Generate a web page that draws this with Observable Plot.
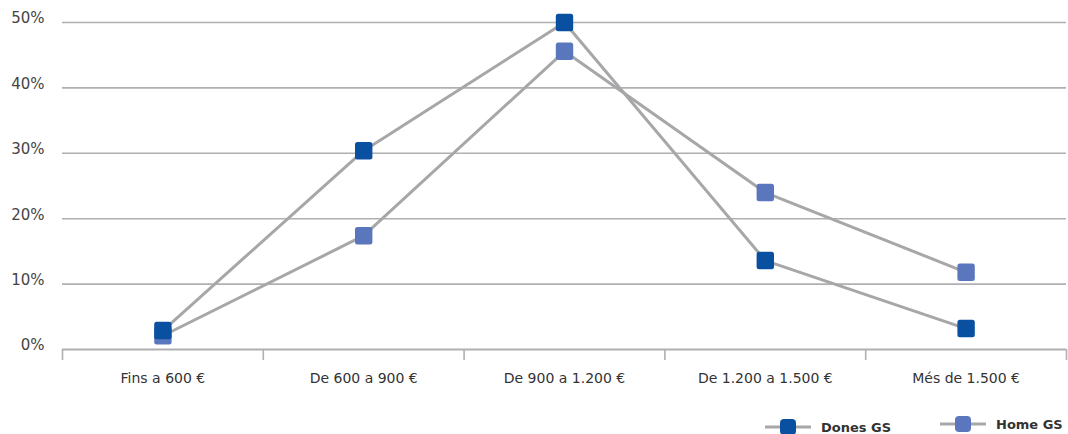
<!DOCTYPE html>
<html>
<head>
<meta charset="utf-8">
<script src="https://cdn.jsdelivr.net/npm/d3@7"></script>
<script src="https://cdn.jsdelivr.net/npm/@observablehq/plot@0.6"></script>
<style>
  html, body { margin: 0; padding: 0; background: #fff; }
  #wrap { position: relative; width: 1068px; height: 434px; font-family: "DejaVu Sans", sans-serif; }
  #legend { position: absolute; left: 0; top: 400px; width: 1068px; height: 34px; }
  .item { position: absolute; display: flex; align-items: center; font-weight: bold; font-size: 13px; color: #333; }
  .item svg { margin-right: 10px; }
</style>
</head>
<body>
<div id="wrap"><div id="chart"></div><div id="legend"></div></div>
<script>
const categories = ["Fins a 600 €", "De 600 a 900 €", "De 900 a 1.200 €", "De 1.200 a 1.500 €", "Més de 1.500 €"];
const dones = [2.9, 30.4, 50.0, 13.6, 3.2];
const home = [2.1, 17.4, 45.6, 24.0, 11.8];
const yTicks = [0, 10, 20, 30, 40, 50];
const seriesNames = ["Dones GS", "Home GS"];
const seriesColors = ["#0a50a1", "#5a77bd"];

const lineGray = "#a7a7a9";
const gridGray = "#b0b0b2";

const rows = [];
categories.forEach((c, i) => {
  rows.push({series: seriesNames[0], i, v: dones[i]});
  rows.push({series: seriesNames[1], i, v: home[i]});
});
const idx = d3.range(categories.length);
const boundaries = d3.range(categories.length + 1).map(i => i - 0.5);

const chart = Plot.plot({
  width: 1068,
  height: 400,
  marginLeft: 62,
  marginRight: 2,
  marginTop: 22,
  marginBottom: 51,
  style: {fontFamily: "DejaVu Sans, sans-serif", background: "#fff"},
  x: {type: "linear", domain: [-0.5, categories.length - 0.5], label: null},
  y: {domain: [0, 50], label: null},
  color: {domain: seriesNames, range: seriesColors},
  marks: [
    Plot.ruleY(yTicks.filter(d => d > 0), {stroke: gridGray, strokeWidth: 1.6}),
    Plot.ruleY([0], {stroke: gridGray, strokeWidth: 2}),
    Plot.axisX({ticks: boundaries, tickFormat: () => "", tickSize: 11, stroke: gridGray, strokeWidth: 1.6, label: null}),
    Plot.axisX({ticks: idx, tickFormat: i => categories[i], tickSize: 0, tickPadding: 24, fontSize: 14, fill: "#333", label: null}),
    Plot.axisY({ticks: yTicks, tickFormat: d => d + "%", tickSize: 0, tickPadding: 18, dy: -4, fontSize: 15, fill: "#444", label: null}),
    Plot.line(rows.filter(d => d.series === seriesNames[1]), {x: "i", y: "v", stroke: lineGray, strokeWidth: 3}),
    Plot.line(rows.filter(d => d.series === seriesNames[0]), {x: "i", y: "v", stroke: lineGray, strokeWidth: 3}),
    Plot.dot(rows.filter(d => d.series === seriesNames[1]), {x: "i", y: "v", symbol: "square", r: 7, fill: "series", stroke: "series", strokeWidth: 5, strokeLinejoin: "round"}),
    Plot.dot(rows.filter(d => d.series === seriesNames[0]), {x: "i", y: "v", symbol: "square", r: 7, fill: "series", stroke: "series", strokeWidth: 5, strokeLinejoin: "round"})
  ]
});
document.getElementById("chart").appendChild(chart);

// Legend
const legend = document.getElementById("legend");
const legendPos = [{left: 765, top: 27}, {left: 940, top: 24}];
seriesNames.forEach((name, k) => {
  const item = document.createElement("div");
  item.className = "item";
  item.style.left = legendPos[k].left + "px";
  item.style.top = (legendPos[k].top - 9) + "px";
  item.innerHTML = `<svg width="46" height="18"><line x1="0" x2="46" y1="9" y2="9" stroke="${lineGray}" stroke-width="3"/><rect x="15" y="1" width="16" height="16" rx="4" fill="${seriesColors[k]}"/></svg><span>${name}</span>`;
  legend.appendChild(item);
});
</script>
</body>
</html>
